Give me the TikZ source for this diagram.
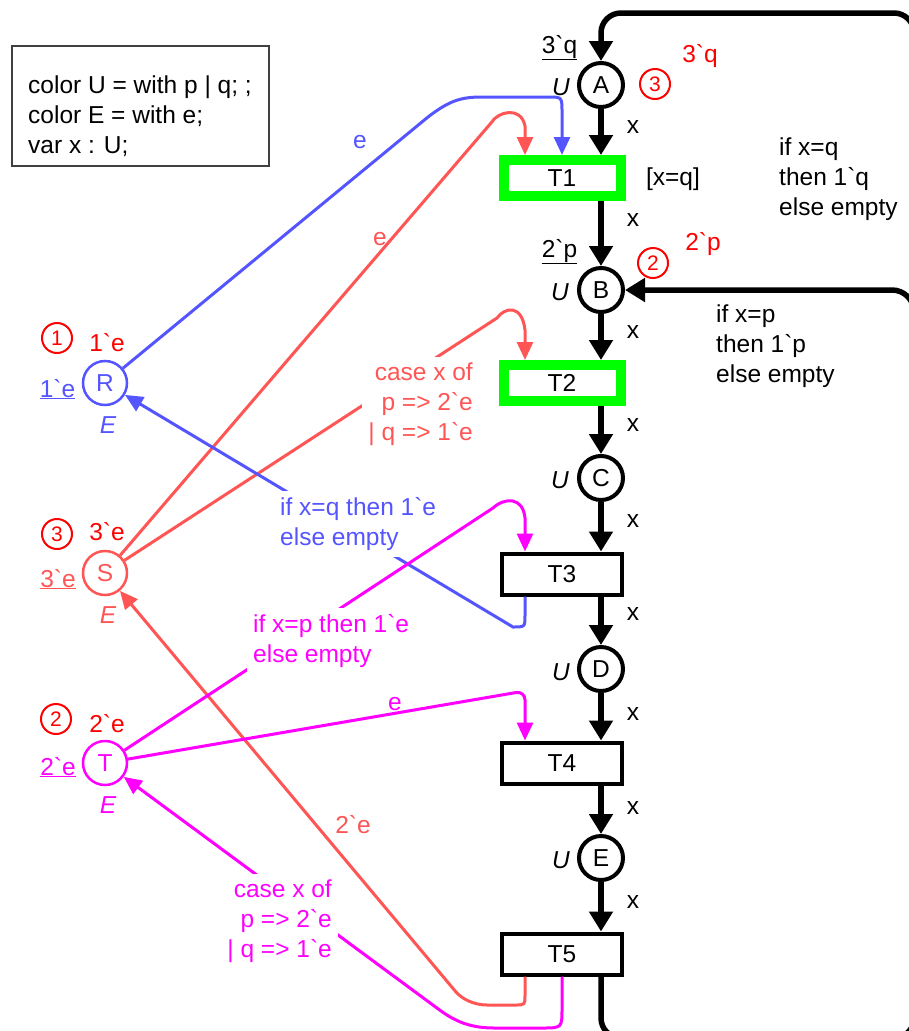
\documentclass[tikz,border=0pt]{standalone}
\usepackage{fontspec}
\setmainfont{Liberation Sans}[Ligatures=TeXOff]
\usetikzlibrary{arrows.meta}
\definecolor{bluec}{RGB}{85,85,255}
\definecolor{salmonc}{RGB}{255,85,85}
\definecolor{magc}{RGB}{255,0,255}
\definecolor{redc}{RGB}{255,0,0}
\definecolor{greenc}{RGB}{0,255,0}
\definecolor{declgray}{RGB}{64,64,64}
\tikzset{
 txt/.style={font=\fontsize{24.5}{30}\selectfont},
 ital/.style={font=\fontsize{24.5}{30}\selectfont\itshape, anchor=base, inner sep=0pt},
 place/.style={circle, draw, line width=4pt, minimum size=44pt, fill=white, inner sep=0pt, txt},
 cplace/.style={circle, draw=#1, text=#1, line width=2.5pt, minimum size=44pt, fill=white, inner sep=0pt, txt},
 trans/.style={rectangle, draw, line width=4pt, minimum width=120pt, minimum height=41pt, fill=white, inner sep=0pt, txt},
 gtrans/.style={rectangle, draw=greenc, line width=10pt, minimum width=117pt, minimum height=36pt, fill=white, inner sep=0pt, txt},
 barc/.style={line width=5.5pt, -{Triangle[width=23pt,length=20pt]}},
 carc/.style={line width=3pt, color=#1, -{Triangle[width=16pt,length=18pt]}},
 lbl/.style={fill=white, inner sep=6pt, txt},
 tok/.style={circle, draw=redc, text=redc, line width=2pt, minimum size=30pt, inner sep=0pt, font=\fontsize{21}{22}\selectfont},
 inscr/.style={anchor=base, inner sep=0pt, txt},
}
\begin{document}
\begin{tikzpicture}[x=1pt,y=-1pt]
\fill[white] (0,0) rectangle (909,1031);
\useasboundingbox (0,0) rectangle (909,1031);
\clip (0,0) rectangle (909,1031);

% declarations
\node[draw=declgray, line width=2pt, minimum width=257pt, minimum height=120pt, inner sep=0pt] (decl) at (140.5,106) {};
\node[txt, align=left, anchor=north west, inner sep=0pt] (decltext) at (28,75.5) {color U = with p | q; ;\\color E = with e;\\var x : U;};

% places (main chain)
\node[place] (A) at (601,85) {A};
\node[place] (B) at (601,290) {B};
\node[place] (C) at (601,478) {C};
\node[place] (D) at (601,669) {D};
\node[place] (E) at (601,858) {E};

% resource places
\node[cplace=bluec] (R) at (105,383) {R};
\node[cplace=salmonc] (S) at (105,573) {S};
\node[cplace=magc] (T) at (105,763) {T};

% transitions
\node[gtrans] (T1) at (562,178) {T1};
\node[gtrans] (T2) at (562,383) {T2};
\node[trans] (T3) at (562,574) {T3};
\node[trans] (T4) at (562,763) {T4};
\node[trans] (T5) at (562,954) {T5};

% black arcs
\draw[barc] (A) -- (A |- T1.north);
\draw[barc] (A |- T1.south) -- (B);
\draw[barc] (B) -- (B |- T2.north);
\draw[barc] (B |- T2.south) -- (C);
\draw[barc] (C) -- (C |- T3.north);
\draw[barc] (C |- T3.south) -- (D);
\draw[barc] (D) -- (D |- T4.north);
\draw[barc] (D |- T4.south) -- (E);
\draw[barc] (E) -- (E |- T5.north);
\draw[barc, rounded corners=20pt] (E |- T5.south) -- (601,1038) -- (914,1038) -- (914,13) -- (601,13) -- (A);
\draw[barc, rounded corners=22pt] (914,420) |- (B.east);

% arc inscriptions x
\foreach \yy in {133,226,338,431,527,620,720,814,908}
  \node[inscr] at (633,\yy) {x};

% salmon arcs
\draw[carc=salmonc] (S) -- (491,123) .. controls (498,111) and (521,106) .. (525,126) -- ([xshift=-37pt]T1.north);
\draw[carc=salmonc] (S) -- (497,318) .. controls (505,307) and (522,304) .. (525,330) -- ([xshift=-37pt]T2.north);
\draw[carc=salmonc] ([xshift=-37pt]T5.south) -- (525,995) .. controls (525,1005) .. (515,1005) -- (487,1005) .. controls (474,1005) and (462,999) .. (456,992) -- (S);
\node[lbl, text=salmonc, align=right, anchor=east] at (479,404) {case x of\\p => 2`e\\| q => 1`e};
\node[inscr, text=salmonc] at (380,245) {e};
\node[inscr, text=salmonc] at (353,833) {2`e};

% blue arcs
\draw[carc=bluec] (R) -- (428,117) .. controls (450,100) and (462,97) .. (482,97) -- (548,97) .. controls (562,97) .. (562,112) -- (T1.north);
\draw[carc=bluec] ([xshift=-37pt]T3.south) -- (525,615) .. controls (525,627) .. (513,627) -- (R);
\node[lbl, text=bluec, align=left, anchor=west] at (274,524) {if x=q then 1`e\\else empty};
\node[inscr, text=bluec] at (360,148) {e};

% magenta arcs
\draw[carc=magc] (T) -- (493,508) .. controls (505,497) and (523,497) .. (525,518) -- ([xshift=-37pt]T3.north);
\draw[carc=magc, rounded corners=9pt] (T) -- (525,691) -- ([xshift=-37pt]T4.north);
\draw[carc=magc] (T5.south) -- (562,1008) .. controls (562,1028) .. (542,1028) -- (494,1028) .. controls (470,1028) and (455,1021) .. (441,1011) -- (T);
\node[lbl, text=magc, align=left, anchor=west] at (247,641) {if x=p then 1`e\\else empty};
\node[lbl, text=magc, align=right, anchor=east] at (338,921) {case x of\\p => 2`e\\| q => 1`e};
\node[inscr, text=magc] at (395,710) {e};

% inscriptions of places
\node[ital] at (561,95) {U};
\node[ital] at (560,300) {U};
\node[ital] at (560,488) {U};
\node[ital] at (561,680) {U};
\node[ital] at (561,868) {U};
\node[ital, text=bluec] at (108,433) {E};
\node[ital, text=salmonc] at (108,623) {E};
\node[ital, text=magc] at (108,813) {E};

% initial markings
\node[inscr] at (559.5,53) {\underline{3`q}};
\node[inscr] at (559.5,257) {\underline{2`p}};
\node[inscr, text=bluec] at (57.5,397) {\underline{1`e}};
\node[inscr, text=salmonc] at (58,587) {\underline{3`e}};
\node[inscr, text=magc] at (58,775) {\underline{2`e}};

% current markings
\node[inscr, text=redc] at (700,62) {3`q};
\node[inscr, text=redc] at (703,250) {2`p};
\node[inscr, text=redc] at (107,351) {1`e};
\node[inscr, text=redc] at (107,540) {3`e};
\node[inscr, text=redc] at (107,732) {2`e};
\node[tok] at (655,84) {3};
\node[tok] at (653,263) {2};
\node[tok] at (57,338) {1};
\node[tok] at (57,534) {3};
\node[tok] at (56,719) {2};

% guard and other arc inscriptions
\node[inscr] at (673,185) {[x=q]};
\node[txt, align=left, anchor=west, inner sep=0pt] at (779,179) {if x=q\\then 1`q\\else empty};
\node[txt, align=left, anchor=west, inner sep=0pt] at (716,346) {if x=p\\then 1`p\\else empty};
\end{tikzpicture}
\end{document}
